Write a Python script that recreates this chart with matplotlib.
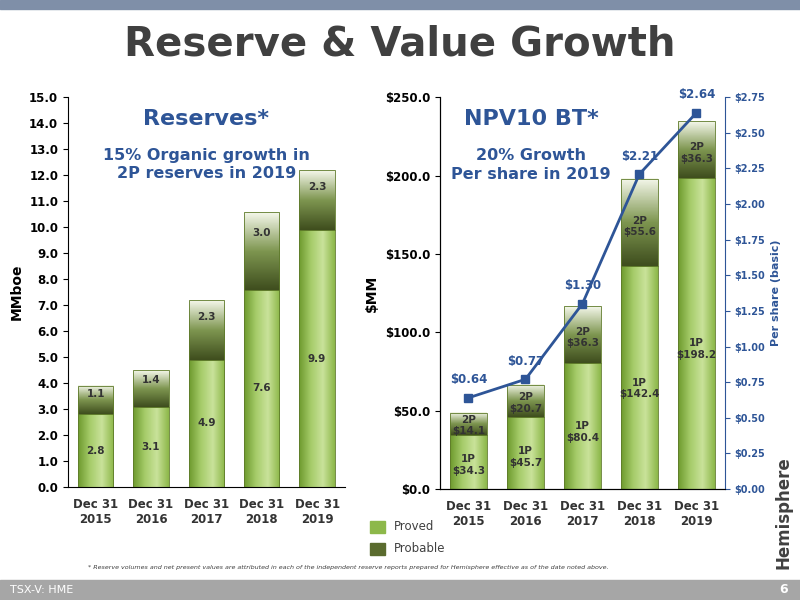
import numpy as np
import matplotlib.pyplot as plt
from matplotlib.colors import LinearSegmentedColormap

years = ['Dec 31\n2015', 'Dec 31\n2016', 'Dec 31\n2017', 'Dec 31\n2018', 'Dec 31\n2019']
res_proved = [2.8, 3.1, 4.9, 7.6, 9.9]
res_probable = [1.1, 1.4, 2.3, 3.0, 2.3]
npv_proved = [34.3, 45.7, 80.4, 142.4, 198.2]
npv_probable = [14.1, 20.7, 36.3, 55.6, 36.3]
per_share = [0.64, 0.77, 1.30, 2.21, 2.64]

blue = '#2E5597'
green_cm = LinearSegmentedColormap.from_list('g', ['#6E9A2E', '#A6CC6A', '#C9E29A', '#8DB84A'])
prob_cm = LinearSegmentedColormap.from_list('p', ['#3F4E1E', '#7E9650', '#F4F7EA'])

fig = plt.figure(figsize=(8, 6), dpi=100)
fig.patch.set_facecolor('white')

# header / footer
fig.patches.append(plt.Rectangle((0, 0.985), 1, 0.015, transform=fig.transFigure, color='#7F8FA8'))
fig.patches.append(plt.Rectangle((0, 0), 1, 0.033, transform=fig.transFigure, color='#A6A6A6'))
fig.text(0.5, 0.925, 'Reserve & Value Growth', ha='center', va='center', fontsize=29,
         fontweight='bold', color='#404040')
fig.text(0.012, 0.017, 'TSX-V: HME', fontsize=8, color='white', va='center')
fig.text(0.985, 0.017, '6', fontsize=9, color='white', va='center', ha='right', fontweight='bold')
fig.text(0.11, 0.052, '* Reserve volumes and net present values are attributed in each of the independent '
         'reserve reports prepared for Hemisphere effective as of the date noted above.',
         fontsize=4.6, style='italic', color='#404040')
fig.text(0.99, 0.145, 'Hemisphere', rotation=90, fontsize=12, fontweight='bold',
         color='#404040', ha='right', va='center')


def grad_bar(ax, x, y0, y1, cmap, w=0.64):
    img = np.linspace(0, 1, 64).reshape(1, -1)
    if cmap is prob_cm:
        img = np.linspace(0, 1, 64).reshape(-1, 1)
    ax.imshow(img, extent=(x - w / 2, x + w / 2, y0, y1), origin='lower', cmap=cmap,
              aspect='auto', zorder=2)
    ax.add_patch(plt.Rectangle((x - w / 2, y0), w, y1 - y0, fill=False, ec='#5E7A2A', lw=0.6, zorder=3))


def style(ax):
    ax.grid(False)
    for s in ['top', 'right']:
        ax.spines[s].set_visible(False)
    ax.tick_params(labelsize=8.5)
    for lab in ax.get_yticklabels():
        lab.set_fontweight('bold')


x = np.arange(len(years))

# left chart
ax1 = fig.add_axes([0.085, 0.188, 0.346, 0.65])
for i in x:
    grad_bar(ax1, i, 0, res_proved[i], green_cm)
    grad_bar(ax1, i, res_proved[i], res_proved[i] + res_probable[i], prob_cm)
    ax1.text(i, res_proved[i] / 2, f'{res_proved[i]:.1f}', ha='center', va='center',
             fontsize=7.5, fontweight='bold', color='#333333', zorder=4)
    ax1.text(i, res_proved[i] + res_probable[i] * 0.72, f'{res_probable[i]:.1f}', ha='center',
             va='center', fontsize=7.5, fontweight='bold', color='#333333', zorder=4)
ax1.set_xlim(-0.5, 4.5)
ax1.set_ylim(0, 15)
ax1.set_yticks(np.arange(0, 15.1, 1))
ax1.set_yticklabels([f'{v:.1f}' for v in np.arange(0, 15.1, 1)])
ax1.set_xticks(x)
ax1.set_xticklabels(years, fontsize=10, fontweight='bold', color='#333333')
ax1.tick_params(axis='x', length=0, pad=8)
ax1.set_ylabel('MMboe', fontsize=10, fontweight='bold')
style(ax1)
ax1.text(0.5, 0.97, 'Reserves*', transform=ax1.transAxes, ha='center', va='top', fontsize=16,
         fontweight='bold', color=blue)
ax1.text(0.5, 0.87, '15% Organic growth in\n2P reserves in 2019', transform=ax1.transAxes,
         ha='center', va='top', fontsize=11.5, fontweight='bold', color=blue, linespacing=1.3)

# right chart
ax2 = fig.add_axes([0.55, 0.185, 0.356, 0.653])
for i in x:
    grad_bar(ax2, i, 0, npv_proved[i], green_cm)
    grad_bar(ax2, i, npv_proved[i], npv_proved[i] + npv_probable[i], prob_cm)
    ax2.text(i, npv_proved[i] * 0.45, f'1P\n${npv_proved[i]}', ha='center', va='center',
             fontsize=7.5, fontweight='bold', color='#333333', zorder=4)
    ax2.text(i, npv_proved[i] + npv_probable[i] * 0.45, f'2P\n${npv_probable[i]}', ha='center',
             va='center', fontsize=7.5, fontweight='bold', color='#333333', zorder=4)
ax2.set_xlim(-0.5, 4.5)
ax2.set_ylim(0, 250)
ax2.set_yticks(np.arange(0, 251, 50))
ax2.set_yticklabels([f'${v:.1f}' for v in np.arange(0, 251, 50)])
ax2.set_xticks(x)
ax2.set_xticklabels(years, fontsize=10, fontweight='bold', color='#333333')
ax2.tick_params(axis='x', length=0, pad=8)
ax2.set_ylabel('$MM', fontsize=10, fontweight='bold')
style(ax2)
ax2.text(0.32, 0.97, 'NPV10 BT*', transform=ax2.transAxes, ha='center', va='top', fontsize=16,
         fontweight='bold', color=blue)
ax2.text(0.32, 0.87, '20% Growth\nPer share in 2019', transform=ax2.transAxes,
         ha='center', va='top', fontsize=11.5, fontweight='bold', color=blue, linespacing=1.3)

ax3 = ax2.twinx()
ax3.plot(x, per_share, color=blue, lw=2, marker='s', ms=6, zorder=5)
for i in x:
    ax3.text(i, per_share[i] + 0.08, f'${per_share[i]:.2f}', ha='center', va='bottom',
             fontsize=8.5, fontweight='bold', color=blue)
ax3.set_ylim(0, 2.75)
ax3.set_yticks(np.arange(0, 2.76, 0.25))
ax3.set_yticklabels([f'${v:.2f}' for v in np.arange(0, 2.76, 0.25)], color=blue)
ax3.tick_params(labelsize=7, colors=blue)
for lab in ax3.get_yticklabels():
    lab.set_fontweight('bold')
ax3.spines['right'].set_color(blue)
ax3.spines['top'].set_visible(False)
ax3.set_ylabel('Per share (basic)', fontsize=8, fontweight='bold', color=blue)

# legend
fig.patches.append(plt.Rectangle((0.463, 0.112), 0.018, 0.02, transform=fig.transFigure,
                                 color='#8DB84A'))
fig.patches.append(plt.Rectangle((0.463, 0.075), 0.018, 0.02, transform=fig.transFigure,
                                 color='#5A6B2E'))
fig.text(0.492, 0.122, 'Proved', fontsize=8.5, color='#404040', va='center')
fig.text(0.492, 0.085, 'Probable', fontsize=8.5, color='#404040', va='center')

fig.savefig('out.png', dpi=100)
